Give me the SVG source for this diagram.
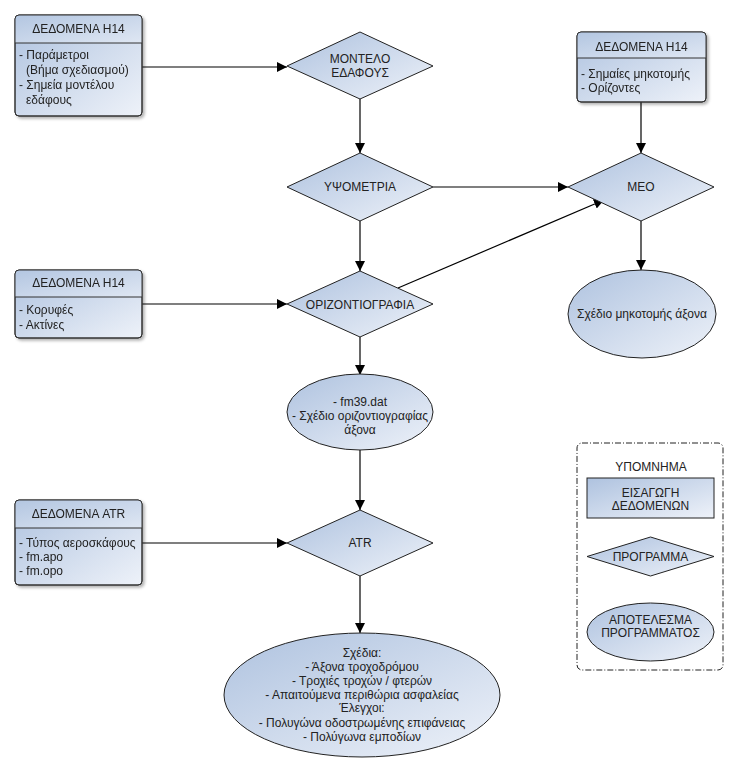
<svg xmlns="http://www.w3.org/2000/svg" width="739" height="775" viewBox="0 0 739 775">
<defs>
<linearGradient id="g" x1="0" y1="0" x2="1" y2="1">
<stop offset="0" stop-color="#aec2df"/>
<stop offset="1" stop-color="#eef2f9"/>
</linearGradient>
<linearGradient id="gh" x1="0" y1="0" x2="1" y2="1">
<stop offset="0" stop-color="#b3c6e1"/>
<stop offset="1" stop-color="#dfe7f3"/>
</linearGradient>
<filter id="sh" x="-10%" y="-10%" width="130%" height="130%">
<feDropShadow dx="2" dy="2" stdDeviation="1.5" flood-color="#000" flood-opacity="0.3"/>
</filter>
<marker id="ah" viewBox="0 0 10 10" refX="10" refY="5" markerWidth="10" markerHeight="10" markerUnits="userSpaceOnUse" orient="auto">
<path d="M0,0 L10,5 L0,10 Z" fill="#000"/>
</marker>
</defs>
<style>
text{font-family:"Liberation Sans",Arial,sans-serif;font-size:12px;fill:#222}
.c{text-anchor:middle}
.box{fill:url(#g);stroke:#333;stroke-width:1}
.shape{fill:url(#g);stroke:#222;stroke-width:1}
.div{stroke:#333;stroke-width:1}
.con{stroke:#000;stroke-width:1.2;fill:none;marker-end:url(#ah)}
</style>
<rect width="739" height="775" fill="#fff"/>

<g id="connectors">
<line class="con" x1="142" y1="67" x2="287" y2="67"/>
<line class="con" x1="360" y1="99" x2="360" y2="153"/>
<line class="con" x1="433" y1="187" x2="568" y2="187"/>
<line class="con" x1="641" y1="102" x2="641" y2="153"/>
<line class="con" x1="360" y1="221" x2="360" y2="271"/>
<line class="con" x1="398" y1="288" x2="604" y2="200"/>
<line class="con" x1="641" y1="221" x2="641" y2="270"/>
<line class="con" x1="142" y1="304" x2="287" y2="304"/>
<line class="con" x1="360" y1="337" x2="360" y2="375"/>
<line class="con" x1="360" y1="450" x2="360" y2="510"/>
<line class="con" x1="142" y1="543" x2="287" y2="543"/>
<line class="con" x1="360" y1="576" x2="360" y2="633"/>
</g>

<g id="data1" filter="url(#sh)">
<rect class="box" x="15" y="15" width="127" height="101" rx="4"/>
<path d="M19,15 H138 A4,4 0 0 1 142,19 V43 H15 V19 A4,4 0 0 1 19,15 Z" fill="url(#gh)" stroke="none"/>
<line class="div" x1="15" y1="43" x2="142" y2="43"/>
<rect x="15" y="15" width="127" height="101" rx="4" fill="none" stroke="#333"/>
<text class="c" x="78.5" y="33">ΔΕΔΟΜΕΝΑ Η14</text>
<text x="19" y="59">- Παράμετροι</text>
<text x="26" y="74">(Βήμα σχεδιασμού)</text>
<text x="19" y="89">- Σημεία μοντέλου</text>
<text x="26" y="104">εδάφους</text>
</g>

<g id="data2" filter="url(#sh)">
<rect class="box" x="15" y="270" width="127" height="68" rx="4"/>
<path d="M19,270 H138 A4,4 0 0 1 142,274 V297 H15 V274 A4,4 0 0 1 19,270 Z" fill="url(#gh)" stroke="none"/>
<line class="div" x1="15" y1="297" x2="142" y2="297"/>
<rect x="15" y="270" width="127" height="68" rx="4" fill="none" stroke="#333"/>
<text class="c" x="78.5" y="287">ΔΕΔΟΜΕΝΑ Η14</text>
<text x="19" y="314">- Κορυφές</text>
<text x="19" y="329">- Ακτίνες</text>
</g>

<g id="data3" filter="url(#sh)">
<rect class="box" x="577" y="32" width="129" height="70" rx="4"/>
<path d="M581,32 H702 A4,4 0 0 1 706,36 V58 H577 V36 A4,4 0 0 1 581,32 Z" fill="url(#gh)" stroke="none"/>
<line class="div" x1="577" y1="58" x2="706" y2="58"/>
<rect x="577" y="32" width="129" height="70" rx="4" fill="none" stroke="#333"/>
<text class="c" x="641.5" y="51">ΔΕΔΟΜΕΝΑ Η14</text>
<text x="581" y="78">- Σημαίες μηκοτομής</text>
<text x="581" y="92">- Ορίζοντες</text>
</g>

<g id="data4" filter="url(#sh)">
<rect class="box" x="15" y="500" width="127" height="85" rx="4"/>
<path d="M19,500 H138 A4,4 0 0 1 142,504 V528 H15 V504 A4,4 0 0 1 19,500 Z" fill="url(#gh)" stroke="none"/>
<line class="div" x1="15" y1="528" x2="142" y2="528"/>
<rect x="15" y="500" width="127" height="85" rx="4" fill="none" stroke="#333"/>
<text class="c" x="78.5" y="518">ΔΕΔΟΜΕΝΑ ATR</text>
<text x="19" y="547">- Τύπος αεροσκάφους</text>
<text x="19" y="561">- fm.apo</text>
<text x="19" y="575">- fm.opo</text>
</g>

<g id="montelo">
<polygon class="shape" points="360,32 433,66 360,99 287,66"/>
<text class="c" x="360" y="63">ΜΟΝΤΕΛΟ</text>
<text class="c" x="360" y="77">ΕΔΑΦΟΥΣ</text>
</g>

<g id="ypsometria">
<polygon class="shape" points="360,153 433,187 360,221 287,187"/>
<text class="c" x="360" y="191">ΥΨΟΜΕΤΡΙΑ</text>
</g>

<g id="meo">
<polygon class="shape" points="641,153 714,187 641,221 568,187"/>
<text class="c" x="641" y="191">ΜΕΟ</text>
</g>

<g id="orizontiografia">
<polygon class="shape" points="360,271 433,304 360,337 287,304"/>
<text class="c" x="360" y="309">ΟΡΙΖΟΝΤΙΟΓΡΑΦΙΑ</text>
</g>

<g id="mikotomi">
<ellipse class="shape" cx="642" cy="314" rx="74" ry="44"/>
<text class="c" x="642" y="318">Σχέδιο μηκοτομής άξονα</text>
</g>

<g id="fm39">
<ellipse class="shape" cx="360" cy="412" rx="73" ry="38"/>
<text class="c" x="360" y="406">- fm39.dat</text>
<text class="c" x="360" y="420">- Σχέδιο οριζοντιογραφίας</text>
<text class="c" x="360" y="434">άξονα</text>
</g>

<g id="atr">
<polygon class="shape" points="360,510 433,543 360,576 287,543"/>
<text class="c" x="360" y="547">ATR</text>
</g>

<g id="results">
<ellipse class="shape" cx="362" cy="695" rx="138" ry="62"/>
<text class="c" x="362" y="657">Σχέδια:</text>
<text class="c" x="362" y="671">- Άξονα τροχοδρόμου</text>
<text class="c" x="362" y="685">- Τροχιές τροχών / φτερών</text>
<text class="c" x="362" y="699">- Απαιτούμενα περιθώρια ασφαλείας</text>
<text class="c" x="362" y="712">Έλεγχοι:</text>
<text class="c" x="362" y="727">- Πολυγώνα οδοστρωμένης επιφάνειας</text>
<text class="c" x="362" y="741">- Πολύγωνα εμποδίων</text>
</g>

<g id="legend">
<rect x="577" y="443" width="146" height="227" rx="5" fill="#fff" stroke="#222" stroke-width="1" stroke-dasharray="6,2,1,2"/>
<text class="c" x="651" y="471">ΥΠΟΜΝΗΜΑ</text>
<rect class="shape" x="587" y="478" width="127" height="40"/>
<text class="c" x="650.5" y="497">ΕΙΣΑΓΩΓΗ</text>
<text class="c" x="650.5" y="510">ΔΕΔΟΜΕΝΩΝ</text>
<polygon class="shape" points="650.5,537 714,556.5 650.5,576 587,556.5"/>
<text class="c" x="650.5" y="561">ΠΡΟΓΡΑΜΜΑ</text>
<ellipse class="shape" cx="650.5" cy="632" rx="63.5" ry="29"/>
<text class="c" x="650.5" y="624">ΑΠΟΤΕΛΕΣΜΑ</text>
<text class="c" x="650.5" y="637">ΠΡΟΓΡΑΜΜΑΤΟΣ</text>
</g>
</svg>
